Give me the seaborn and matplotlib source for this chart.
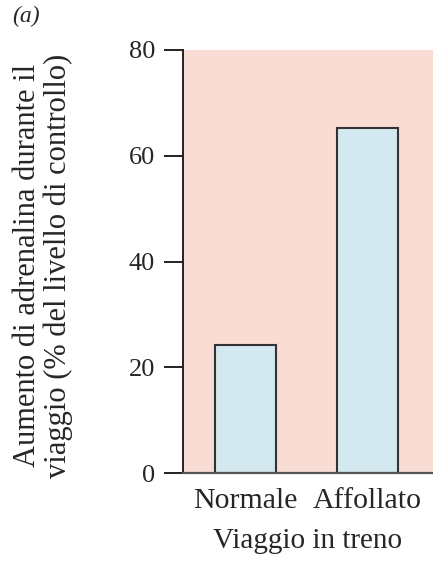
import matplotlib
matplotlib.use("Agg")
import matplotlib.pyplot as plt
import pandas as pd
import seaborn as sns

# Data
viaggio = ["Normale", "Affollato"]
aumento = [24.2, 65.2]
y_ticks = [0, 20, 40, 60, 80]

df = pd.DataFrame({"viaggio": viaggio, "aumento": aumento})

sns.set_style("ticks")
plt.rcParams["font.family"] = ["Liberation Serif", "DejaVu Serif"]

fig = plt.figure(figsize=(4.33, 5.62), dpi=100)
ax = fig.add_axes([183 / 433, 1 - 473 / 562, 1 - 183 / 433, (473 - 50) / 562])
ax.set_facecolor("#f9dcd3")

# Bars
sns.barplot(data=df, x="viaggio", y="aumento", ax=ax, color="#d4e8ef",
            saturation=1, width=0.5, edgecolor="#333333", linewidth=1.5)

# Axes limits and ticks
ax.set_ylim(0, 80)
ax.set_xlim(-0.51, 1.54)
ax.set_yticks(y_ticks)
ax.tick_params(axis="y", direction="out", length=14, width=1.4, labelsize=19,
               color="#222222", pad=6)
ax.tick_params(axis="x", length=0, labelsize=21.5, pad=11)

# Spines
for s in ["top", "right"]:
    ax.spines[s].set_visible(False)
ax.spines["left"].set_color("#222222")
ax.spines["left"].set_linewidth(1.4)
ax.spines["bottom"].set_color("#555555")
ax.spines["bottom"].set_linewidth(1.6)

# Labels
ax.set_xlabel("Viaggio in treno", fontsize=21, labelpad=10)
ax.set_ylabel("Aumento di adrenalina durante il\nviaggio (% del livello di controllo)",
              fontsize=22, linespacing=1.1, ha="center", va="center")
ax.yaxis.set_label_coords(-0.56, 0.49)
fig.text(12 / 433, 1 - 6 / 562, "(a)", fontsize=17, va="top", style="italic")

fig.savefig("out.png", dpi=100, facecolor="white")
